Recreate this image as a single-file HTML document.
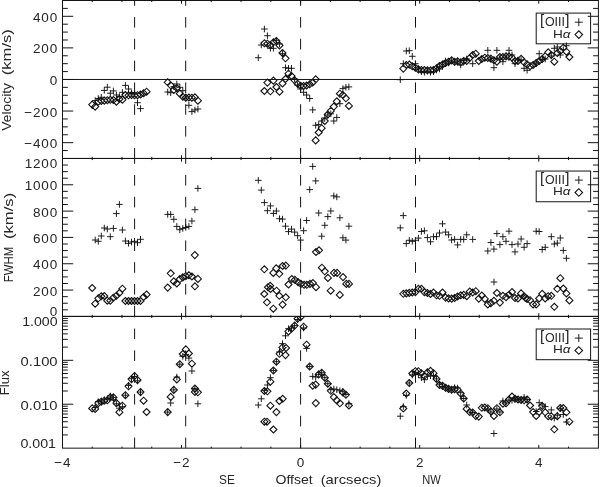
<!DOCTYPE html>
<html lang="en"><head><meta charset="utf-8"><title>Offset plot</title>
<style>html,body{margin:0;padding:0;background:#fff}svg{display:block}</style></head>
<body>
<svg width="600" height="487" viewBox="0 0 600 487" font-family="'Liberation Sans', sans-serif" fill="#262626" stroke="none">
<rect width="600" height="487" fill="#fff"/>
<defs>
<clipPath id="c0"><rect x="62.5" y="0.5" width="535.9" height="157.9"/></clipPath>
<clipPath id="c1"><rect x="62.5" y="158.45" width="535.9" height="157.9"/></clipPath>
<clipPath id="c2"><rect x="62.5" y="316.4" width="535.9" height="131.8"/></clipPath>
</defs>
<rect x="536.2" y="13.10" width="54.40" height="30.70" fill="#fff" stroke="#141414" stroke-width="1.0"/>
<text x="540.0" y="25.4" text-anchor="start" font-size="15.1">[</text>
<text x="544.9" y="25.7" text-anchor="start" font-size="13.4" textLength="20.0" lengthAdjust="spacingAndGlyphs">OIII</text>
<text x="565.2" y="25.4" text-anchor="start" font-size="15.1">]</text>
<text x="553.0" y="37.5" text-anchor="start" font-size="10.5" textLength="17.6" lengthAdjust="spacingAndGlyphs">H<tspan font-style="italic">α</tspan></text>
<g stroke="#141414" fill="none" stroke-width="0.95">
<path d="M574.8 22.2h8.0M578.8 18.2v8.0"/>
<path d="M575.0 34.6l3.8 -3.8l3.8 3.8l-3.8 3.8z" stroke-width="1.1"/>
</g>
<rect x="536.2" y="171.05" width="54.40" height="30.70" fill="#fff" stroke="#141414" stroke-width="1.0"/>
<text x="540.0" y="183.4" text-anchor="start" font-size="15.1">[</text>
<text x="544.9" y="183.6" text-anchor="start" font-size="13.4" textLength="20.0" lengthAdjust="spacingAndGlyphs">OIII</text>
<text x="565.2" y="183.4" text-anchor="start" font-size="15.1">]</text>
<text x="553.0" y="195.4" text-anchor="start" font-size="10.5" textLength="17.6" lengthAdjust="spacingAndGlyphs">H<tspan font-style="italic">α</tspan></text>
<g stroke="#141414" fill="none" stroke-width="0.95">
<path d="M574.8 180.1h8.0M578.8 176.1v8.0"/>
<path d="M575.0 192.5l3.8 -3.8l3.8 3.8l-3.8 3.8z" stroke-width="1.1"/>
</g>
<rect x="536.2" y="329.00" width="54.40" height="30.70" fill="#fff" stroke="#141414" stroke-width="1.0"/>
<text x="540.0" y="341.4" text-anchor="start" font-size="15.1">[</text>
<text x="544.9" y="341.6" text-anchor="start" font-size="13.4" textLength="20.0" lengthAdjust="spacingAndGlyphs">OIII</text>
<text x="565.2" y="341.4" text-anchor="start" font-size="15.1">]</text>
<text x="553.0" y="353.4" text-anchor="start" font-size="10.5" textLength="17.6" lengthAdjust="spacingAndGlyphs">H<tspan font-style="italic">α</tspan></text>
<g stroke="#141414" fill="none" stroke-width="0.95">
<path d="M574.8 338.1h8.0M578.8 334.1v8.0"/>
<path d="M575.0 350.5l3.8 -3.8l3.8 3.8l-3.8 3.8z" stroke-width="1.1"/>
</g>
<g stroke="#141414" fill="none" stroke-linecap="butt">
<rect x="62.5" y="0.5" width="535.90" height="157.95" stroke-width="1.0"/>
<rect x="62.5" y="158.45" width="535.90" height="157.95" stroke-width="1.0"/>
<rect x="62.5" y="316.4" width="535.90" height="131.75" stroke-width="1.0"/>
<line x1="92.19" y1="158.45" x2="92.19" y2="156.85" stroke-width="1.0"/>
<line x1="92.19" y1="0.50" x2="92.19" y2="2.10" stroke-width="1.0"/>
<line x1="121.97" y1="158.45" x2="121.97" y2="156.85" stroke-width="1.0"/>
<line x1="121.97" y1="0.50" x2="121.97" y2="2.10" stroke-width="1.0"/>
<line x1="151.74" y1="158.45" x2="151.74" y2="156.85" stroke-width="1.0"/>
<line x1="151.74" y1="0.50" x2="151.74" y2="2.10" stroke-width="1.0"/>
<line x1="181.51" y1="158.45" x2="181.51" y2="155.25" stroke-width="1.0"/>
<line x1="181.51" y1="0.50" x2="181.51" y2="3.70" stroke-width="1.0"/>
<line x1="211.28" y1="158.45" x2="211.28" y2="156.85" stroke-width="1.0"/>
<line x1="211.28" y1="0.50" x2="211.28" y2="2.10" stroke-width="1.0"/>
<line x1="241.06" y1="158.45" x2="241.06" y2="156.85" stroke-width="1.0"/>
<line x1="241.06" y1="0.50" x2="241.06" y2="2.10" stroke-width="1.0"/>
<line x1="270.83" y1="158.45" x2="270.83" y2="156.85" stroke-width="1.0"/>
<line x1="270.83" y1="0.50" x2="270.83" y2="2.10" stroke-width="1.0"/>
<line x1="300.60" y1="158.45" x2="300.60" y2="155.25" stroke-width="1.0"/>
<line x1="300.60" y1="0.50" x2="300.60" y2="3.70" stroke-width="1.0"/>
<line x1="330.37" y1="158.45" x2="330.37" y2="156.85" stroke-width="1.0"/>
<line x1="330.37" y1="0.50" x2="330.37" y2="2.10" stroke-width="1.0"/>
<line x1="360.14" y1="158.45" x2="360.14" y2="156.85" stroke-width="1.0"/>
<line x1="360.14" y1="0.50" x2="360.14" y2="2.10" stroke-width="1.0"/>
<line x1="389.92" y1="158.45" x2="389.92" y2="156.85" stroke-width="1.0"/>
<line x1="389.92" y1="0.50" x2="389.92" y2="2.10" stroke-width="1.0"/>
<line x1="419.69" y1="158.45" x2="419.69" y2="155.25" stroke-width="1.0"/>
<line x1="419.69" y1="0.50" x2="419.69" y2="3.70" stroke-width="1.0"/>
<line x1="449.46" y1="158.45" x2="449.46" y2="156.85" stroke-width="1.0"/>
<line x1="449.46" y1="0.50" x2="449.46" y2="2.10" stroke-width="1.0"/>
<line x1="479.23" y1="158.45" x2="479.23" y2="156.85" stroke-width="1.0"/>
<line x1="479.23" y1="0.50" x2="479.23" y2="2.10" stroke-width="1.0"/>
<line x1="509.01" y1="158.45" x2="509.01" y2="156.85" stroke-width="1.0"/>
<line x1="509.01" y1="0.50" x2="509.01" y2="2.10" stroke-width="1.0"/>
<line x1="538.78" y1="158.45" x2="538.78" y2="155.25" stroke-width="1.0"/>
<line x1="538.78" y1="0.50" x2="538.78" y2="3.70" stroke-width="1.0"/>
<line x1="568.55" y1="158.45" x2="568.55" y2="156.85" stroke-width="1.0"/>
<line x1="568.55" y1="0.50" x2="568.55" y2="2.10" stroke-width="1.0"/>
<line x1="92.19" y1="316.40" x2="92.19" y2="314.80" stroke-width="1.0"/>
<line x1="92.19" y1="158.45" x2="92.19" y2="160.05" stroke-width="1.0"/>
<line x1="121.97" y1="316.40" x2="121.97" y2="314.80" stroke-width="1.0"/>
<line x1="121.97" y1="158.45" x2="121.97" y2="160.05" stroke-width="1.0"/>
<line x1="151.74" y1="316.40" x2="151.74" y2="314.80" stroke-width="1.0"/>
<line x1="151.74" y1="158.45" x2="151.74" y2="160.05" stroke-width="1.0"/>
<line x1="181.51" y1="316.40" x2="181.51" y2="313.20" stroke-width="1.0"/>
<line x1="181.51" y1="158.45" x2="181.51" y2="161.65" stroke-width="1.0"/>
<line x1="211.28" y1="316.40" x2="211.28" y2="314.80" stroke-width="1.0"/>
<line x1="211.28" y1="158.45" x2="211.28" y2="160.05" stroke-width="1.0"/>
<line x1="241.06" y1="316.40" x2="241.06" y2="314.80" stroke-width="1.0"/>
<line x1="241.06" y1="158.45" x2="241.06" y2="160.05" stroke-width="1.0"/>
<line x1="270.83" y1="316.40" x2="270.83" y2="314.80" stroke-width="1.0"/>
<line x1="270.83" y1="158.45" x2="270.83" y2="160.05" stroke-width="1.0"/>
<line x1="300.60" y1="316.40" x2="300.60" y2="313.20" stroke-width="1.0"/>
<line x1="300.60" y1="158.45" x2="300.60" y2="161.65" stroke-width="1.0"/>
<line x1="330.37" y1="316.40" x2="330.37" y2="314.80" stroke-width="1.0"/>
<line x1="330.37" y1="158.45" x2="330.37" y2="160.05" stroke-width="1.0"/>
<line x1="360.14" y1="316.40" x2="360.14" y2="314.80" stroke-width="1.0"/>
<line x1="360.14" y1="158.45" x2="360.14" y2="160.05" stroke-width="1.0"/>
<line x1="389.92" y1="316.40" x2="389.92" y2="314.80" stroke-width="1.0"/>
<line x1="389.92" y1="158.45" x2="389.92" y2="160.05" stroke-width="1.0"/>
<line x1="419.69" y1="316.40" x2="419.69" y2="313.20" stroke-width="1.0"/>
<line x1="419.69" y1="158.45" x2="419.69" y2="161.65" stroke-width="1.0"/>
<line x1="449.46" y1="316.40" x2="449.46" y2="314.80" stroke-width="1.0"/>
<line x1="449.46" y1="158.45" x2="449.46" y2="160.05" stroke-width="1.0"/>
<line x1="479.23" y1="316.40" x2="479.23" y2="314.80" stroke-width="1.0"/>
<line x1="479.23" y1="158.45" x2="479.23" y2="160.05" stroke-width="1.0"/>
<line x1="509.01" y1="316.40" x2="509.01" y2="314.80" stroke-width="1.0"/>
<line x1="509.01" y1="158.45" x2="509.01" y2="160.05" stroke-width="1.0"/>
<line x1="538.78" y1="316.40" x2="538.78" y2="313.20" stroke-width="1.0"/>
<line x1="538.78" y1="158.45" x2="538.78" y2="161.65" stroke-width="1.0"/>
<line x1="568.55" y1="316.40" x2="568.55" y2="314.80" stroke-width="1.0"/>
<line x1="568.55" y1="158.45" x2="568.55" y2="160.05" stroke-width="1.0"/>
<line x1="92.19" y1="448.15" x2="92.19" y2="446.55" stroke-width="1.0"/>
<line x1="92.19" y1="316.40" x2="92.19" y2="318.00" stroke-width="1.0"/>
<line x1="121.97" y1="448.15" x2="121.97" y2="446.55" stroke-width="1.0"/>
<line x1="121.97" y1="316.40" x2="121.97" y2="318.00" stroke-width="1.0"/>
<line x1="151.74" y1="448.15" x2="151.74" y2="446.55" stroke-width="1.0"/>
<line x1="151.74" y1="316.40" x2="151.74" y2="318.00" stroke-width="1.0"/>
<line x1="181.51" y1="448.15" x2="181.51" y2="444.95" stroke-width="1.0"/>
<line x1="181.51" y1="316.40" x2="181.51" y2="319.60" stroke-width="1.0"/>
<line x1="211.28" y1="448.15" x2="211.28" y2="446.55" stroke-width="1.0"/>
<line x1="211.28" y1="316.40" x2="211.28" y2="318.00" stroke-width="1.0"/>
<line x1="241.06" y1="448.15" x2="241.06" y2="446.55" stroke-width="1.0"/>
<line x1="241.06" y1="316.40" x2="241.06" y2="318.00" stroke-width="1.0"/>
<line x1="270.83" y1="448.15" x2="270.83" y2="446.55" stroke-width="1.0"/>
<line x1="270.83" y1="316.40" x2="270.83" y2="318.00" stroke-width="1.0"/>
<line x1="300.60" y1="448.15" x2="300.60" y2="444.95" stroke-width="1.0"/>
<line x1="300.60" y1="316.40" x2="300.60" y2="319.60" stroke-width="1.0"/>
<line x1="330.37" y1="448.15" x2="330.37" y2="446.55" stroke-width="1.0"/>
<line x1="330.37" y1="316.40" x2="330.37" y2="318.00" stroke-width="1.0"/>
<line x1="360.14" y1="448.15" x2="360.14" y2="446.55" stroke-width="1.0"/>
<line x1="360.14" y1="316.40" x2="360.14" y2="318.00" stroke-width="1.0"/>
<line x1="389.92" y1="448.15" x2="389.92" y2="446.55" stroke-width="1.0"/>
<line x1="389.92" y1="316.40" x2="389.92" y2="318.00" stroke-width="1.0"/>
<line x1="419.69" y1="448.15" x2="419.69" y2="444.95" stroke-width="1.0"/>
<line x1="419.69" y1="316.40" x2="419.69" y2="319.60" stroke-width="1.0"/>
<line x1="449.46" y1="448.15" x2="449.46" y2="446.55" stroke-width="1.0"/>
<line x1="449.46" y1="316.40" x2="449.46" y2="318.00" stroke-width="1.0"/>
<line x1="479.23" y1="448.15" x2="479.23" y2="446.55" stroke-width="1.0"/>
<line x1="479.23" y1="316.40" x2="479.23" y2="318.00" stroke-width="1.0"/>
<line x1="509.01" y1="448.15" x2="509.01" y2="446.55" stroke-width="1.0"/>
<line x1="509.01" y1="316.40" x2="509.01" y2="318.00" stroke-width="1.0"/>
<line x1="538.78" y1="448.15" x2="538.78" y2="444.95" stroke-width="1.0"/>
<line x1="538.78" y1="316.40" x2="538.78" y2="319.60" stroke-width="1.0"/>
<line x1="568.55" y1="448.15" x2="568.55" y2="446.55" stroke-width="1.0"/>
<line x1="568.55" y1="316.40" x2="568.55" y2="318.00" stroke-width="1.0"/>
<line x1="62.50" y1="150.55" x2="67.80" y2="150.55" stroke-width="1.0"/>
<line x1="598.40" y1="150.55" x2="593.10" y2="150.55" stroke-width="1.0"/>
<line x1="62.50" y1="142.66" x2="73.20" y2="142.66" stroke-width="1.0"/>
<line x1="598.40" y1="142.66" x2="587.70" y2="142.66" stroke-width="1.0"/>
<line x1="62.50" y1="134.76" x2="67.80" y2="134.76" stroke-width="1.0"/>
<line x1="598.40" y1="134.76" x2="593.10" y2="134.76" stroke-width="1.0"/>
<line x1="62.50" y1="126.86" x2="67.80" y2="126.86" stroke-width="1.0"/>
<line x1="598.40" y1="126.86" x2="593.10" y2="126.86" stroke-width="1.0"/>
<line x1="62.50" y1="118.96" x2="67.80" y2="118.96" stroke-width="1.0"/>
<line x1="598.40" y1="118.96" x2="593.10" y2="118.96" stroke-width="1.0"/>
<line x1="62.50" y1="111.06" x2="73.20" y2="111.06" stroke-width="1.0"/>
<line x1="598.40" y1="111.06" x2="587.70" y2="111.06" stroke-width="1.0"/>
<line x1="62.50" y1="103.17" x2="67.80" y2="103.17" stroke-width="1.0"/>
<line x1="598.40" y1="103.17" x2="593.10" y2="103.17" stroke-width="1.0"/>
<line x1="62.50" y1="95.27" x2="67.80" y2="95.27" stroke-width="1.0"/>
<line x1="598.40" y1="95.27" x2="593.10" y2="95.27" stroke-width="1.0"/>
<line x1="62.50" y1="87.37" x2="67.80" y2="87.37" stroke-width="1.0"/>
<line x1="598.40" y1="87.37" x2="593.10" y2="87.37" stroke-width="1.0"/>
<line x1="62.50" y1="79.47" x2="73.20" y2="79.47" stroke-width="1.0"/>
<line x1="598.40" y1="79.47" x2="587.70" y2="79.47" stroke-width="1.0"/>
<line x1="62.50" y1="71.58" x2="67.80" y2="71.58" stroke-width="1.0"/>
<line x1="598.40" y1="71.58" x2="593.10" y2="71.58" stroke-width="1.0"/>
<line x1="62.50" y1="63.68" x2="67.80" y2="63.68" stroke-width="1.0"/>
<line x1="598.40" y1="63.68" x2="593.10" y2="63.68" stroke-width="1.0"/>
<line x1="62.50" y1="55.78" x2="67.80" y2="55.78" stroke-width="1.0"/>
<line x1="598.40" y1="55.78" x2="593.10" y2="55.78" stroke-width="1.0"/>
<line x1="62.50" y1="47.89" x2="73.20" y2="47.89" stroke-width="1.0"/>
<line x1="598.40" y1="47.89" x2="587.70" y2="47.89" stroke-width="1.0"/>
<line x1="62.50" y1="39.99" x2="67.80" y2="39.99" stroke-width="1.0"/>
<line x1="598.40" y1="39.99" x2="593.10" y2="39.99" stroke-width="1.0"/>
<line x1="62.50" y1="32.09" x2="67.80" y2="32.09" stroke-width="1.0"/>
<line x1="598.40" y1="32.09" x2="593.10" y2="32.09" stroke-width="1.0"/>
<line x1="62.50" y1="24.19" x2="67.80" y2="24.19" stroke-width="1.0"/>
<line x1="598.40" y1="24.19" x2="593.10" y2="24.19" stroke-width="1.0"/>
<line x1="62.50" y1="16.30" x2="73.20" y2="16.30" stroke-width="1.0"/>
<line x1="598.40" y1="16.30" x2="587.70" y2="16.30" stroke-width="1.0"/>
<line x1="62.50" y1="8.40" x2="67.80" y2="8.40" stroke-width="1.0"/>
<line x1="598.40" y1="8.40" x2="593.10" y2="8.40" stroke-width="1.0"/>
<line x1="62.50" y1="309.82" x2="67.80" y2="309.82" stroke-width="1.0"/>
<line x1="598.40" y1="309.82" x2="593.10" y2="309.82" stroke-width="1.0"/>
<line x1="62.50" y1="303.24" x2="67.80" y2="303.24" stroke-width="1.0"/>
<line x1="598.40" y1="303.24" x2="593.10" y2="303.24" stroke-width="1.0"/>
<line x1="62.50" y1="296.66" x2="67.80" y2="296.66" stroke-width="1.0"/>
<line x1="598.40" y1="296.66" x2="593.10" y2="296.66" stroke-width="1.0"/>
<line x1="62.50" y1="290.07" x2="73.20" y2="290.07" stroke-width="1.0"/>
<line x1="598.40" y1="290.07" x2="587.70" y2="290.07" stroke-width="1.0"/>
<line x1="62.50" y1="283.49" x2="67.80" y2="283.49" stroke-width="1.0"/>
<line x1="598.40" y1="283.49" x2="593.10" y2="283.49" stroke-width="1.0"/>
<line x1="62.50" y1="276.91" x2="67.80" y2="276.91" stroke-width="1.0"/>
<line x1="598.40" y1="276.91" x2="593.10" y2="276.91" stroke-width="1.0"/>
<line x1="62.50" y1="270.33" x2="67.80" y2="270.33" stroke-width="1.0"/>
<line x1="598.40" y1="270.33" x2="593.10" y2="270.33" stroke-width="1.0"/>
<line x1="62.50" y1="263.75" x2="73.20" y2="263.75" stroke-width="1.0"/>
<line x1="598.40" y1="263.75" x2="587.70" y2="263.75" stroke-width="1.0"/>
<line x1="62.50" y1="257.17" x2="67.80" y2="257.17" stroke-width="1.0"/>
<line x1="598.40" y1="257.17" x2="593.10" y2="257.17" stroke-width="1.0"/>
<line x1="62.50" y1="250.59" x2="67.80" y2="250.59" stroke-width="1.0"/>
<line x1="598.40" y1="250.59" x2="593.10" y2="250.59" stroke-width="1.0"/>
<line x1="62.50" y1="244.01" x2="67.80" y2="244.01" stroke-width="1.0"/>
<line x1="598.40" y1="244.01" x2="593.10" y2="244.01" stroke-width="1.0"/>
<line x1="62.50" y1="237.42" x2="73.20" y2="237.42" stroke-width="1.0"/>
<line x1="598.40" y1="237.42" x2="587.70" y2="237.42" stroke-width="1.0"/>
<line x1="62.50" y1="230.84" x2="67.80" y2="230.84" stroke-width="1.0"/>
<line x1="598.40" y1="230.84" x2="593.10" y2="230.84" stroke-width="1.0"/>
<line x1="62.50" y1="224.26" x2="67.80" y2="224.26" stroke-width="1.0"/>
<line x1="598.40" y1="224.26" x2="593.10" y2="224.26" stroke-width="1.0"/>
<line x1="62.50" y1="217.68" x2="67.80" y2="217.68" stroke-width="1.0"/>
<line x1="598.40" y1="217.68" x2="593.10" y2="217.68" stroke-width="1.0"/>
<line x1="62.50" y1="211.10" x2="73.20" y2="211.10" stroke-width="1.0"/>
<line x1="598.40" y1="211.10" x2="587.70" y2="211.10" stroke-width="1.0"/>
<line x1="62.50" y1="204.52" x2="67.80" y2="204.52" stroke-width="1.0"/>
<line x1="598.40" y1="204.52" x2="593.10" y2="204.52" stroke-width="1.0"/>
<line x1="62.50" y1="197.94" x2="67.80" y2="197.94" stroke-width="1.0"/>
<line x1="598.40" y1="197.94" x2="593.10" y2="197.94" stroke-width="1.0"/>
<line x1="62.50" y1="191.36" x2="67.80" y2="191.36" stroke-width="1.0"/>
<line x1="598.40" y1="191.36" x2="593.10" y2="191.36" stroke-width="1.0"/>
<line x1="62.50" y1="184.77" x2="73.20" y2="184.77" stroke-width="1.0"/>
<line x1="598.40" y1="184.77" x2="587.70" y2="184.77" stroke-width="1.0"/>
<line x1="62.50" y1="178.19" x2="67.80" y2="178.19" stroke-width="1.0"/>
<line x1="598.40" y1="178.19" x2="593.10" y2="178.19" stroke-width="1.0"/>
<line x1="62.50" y1="171.61" x2="67.80" y2="171.61" stroke-width="1.0"/>
<line x1="598.40" y1="171.61" x2="593.10" y2="171.61" stroke-width="1.0"/>
<line x1="62.50" y1="165.03" x2="67.80" y2="165.03" stroke-width="1.0"/>
<line x1="598.40" y1="165.03" x2="593.10" y2="165.03" stroke-width="1.0"/>
<line x1="62.50" y1="360.32" x2="73.20" y2="360.32" stroke-width="1.0"/>
<line x1="598.40" y1="360.32" x2="587.70" y2="360.32" stroke-width="1.0"/>
<line x1="62.50" y1="347.10" x2="67.80" y2="347.10" stroke-width="1.0"/>
<line x1="598.40" y1="347.10" x2="593.10" y2="347.10" stroke-width="1.0"/>
<line x1="62.50" y1="339.36" x2="67.80" y2="339.36" stroke-width="1.0"/>
<line x1="598.40" y1="339.36" x2="593.10" y2="339.36" stroke-width="1.0"/>
<line x1="62.50" y1="333.88" x2="67.80" y2="333.88" stroke-width="1.0"/>
<line x1="598.40" y1="333.88" x2="593.10" y2="333.88" stroke-width="1.0"/>
<line x1="62.50" y1="329.62" x2="67.80" y2="329.62" stroke-width="1.0"/>
<line x1="598.40" y1="329.62" x2="593.10" y2="329.62" stroke-width="1.0"/>
<line x1="62.50" y1="326.14" x2="67.80" y2="326.14" stroke-width="1.0"/>
<line x1="598.40" y1="326.14" x2="593.10" y2="326.14" stroke-width="1.0"/>
<line x1="62.50" y1="323.20" x2="67.80" y2="323.20" stroke-width="1.0"/>
<line x1="598.40" y1="323.20" x2="593.10" y2="323.20" stroke-width="1.0"/>
<line x1="62.50" y1="320.66" x2="67.80" y2="320.66" stroke-width="1.0"/>
<line x1="598.40" y1="320.66" x2="593.10" y2="320.66" stroke-width="1.0"/>
<line x1="62.50" y1="318.41" x2="67.80" y2="318.41" stroke-width="1.0"/>
<line x1="598.40" y1="318.41" x2="593.10" y2="318.41" stroke-width="1.0"/>
<line x1="62.50" y1="404.23" x2="73.20" y2="404.23" stroke-width="1.0"/>
<line x1="598.40" y1="404.23" x2="587.70" y2="404.23" stroke-width="1.0"/>
<line x1="62.50" y1="391.01" x2="67.80" y2="391.01" stroke-width="1.0"/>
<line x1="598.40" y1="391.01" x2="593.10" y2="391.01" stroke-width="1.0"/>
<line x1="62.50" y1="383.28" x2="67.80" y2="383.28" stroke-width="1.0"/>
<line x1="598.40" y1="383.28" x2="593.10" y2="383.28" stroke-width="1.0"/>
<line x1="62.50" y1="377.79" x2="67.80" y2="377.79" stroke-width="1.0"/>
<line x1="598.40" y1="377.79" x2="593.10" y2="377.79" stroke-width="1.0"/>
<line x1="62.50" y1="373.54" x2="67.80" y2="373.54" stroke-width="1.0"/>
<line x1="598.40" y1="373.54" x2="593.10" y2="373.54" stroke-width="1.0"/>
<line x1="62.50" y1="370.06" x2="67.80" y2="370.06" stroke-width="1.0"/>
<line x1="598.40" y1="370.06" x2="593.10" y2="370.06" stroke-width="1.0"/>
<line x1="62.50" y1="367.12" x2="67.80" y2="367.12" stroke-width="1.0"/>
<line x1="598.40" y1="367.12" x2="593.10" y2="367.12" stroke-width="1.0"/>
<line x1="62.50" y1="364.57" x2="67.80" y2="364.57" stroke-width="1.0"/>
<line x1="598.40" y1="364.57" x2="593.10" y2="364.57" stroke-width="1.0"/>
<line x1="62.50" y1="362.33" x2="67.80" y2="362.33" stroke-width="1.0"/>
<line x1="598.40" y1="362.33" x2="593.10" y2="362.33" stroke-width="1.0"/>
<line x1="62.50" y1="434.93" x2="67.80" y2="434.93" stroke-width="1.0"/>
<line x1="598.40" y1="434.93" x2="593.10" y2="434.93" stroke-width="1.0"/>
<line x1="62.50" y1="427.20" x2="67.80" y2="427.20" stroke-width="1.0"/>
<line x1="598.40" y1="427.20" x2="593.10" y2="427.20" stroke-width="1.0"/>
<line x1="62.50" y1="421.71" x2="67.80" y2="421.71" stroke-width="1.0"/>
<line x1="598.40" y1="421.71" x2="593.10" y2="421.71" stroke-width="1.0"/>
<line x1="62.50" y1="417.45" x2="67.80" y2="417.45" stroke-width="1.0"/>
<line x1="598.40" y1="417.45" x2="593.10" y2="417.45" stroke-width="1.0"/>
<line x1="62.50" y1="413.98" x2="67.80" y2="413.98" stroke-width="1.0"/>
<line x1="598.40" y1="413.98" x2="593.10" y2="413.98" stroke-width="1.0"/>
<line x1="62.50" y1="411.04" x2="67.80" y2="411.04" stroke-width="1.0"/>
<line x1="598.40" y1="411.04" x2="593.10" y2="411.04" stroke-width="1.0"/>
<line x1="62.50" y1="408.49" x2="67.80" y2="408.49" stroke-width="1.0"/>
<line x1="598.40" y1="408.49" x2="593.10" y2="408.49" stroke-width="1.0"/>
<line x1="62.50" y1="406.24" x2="67.80" y2="406.24" stroke-width="1.0"/>
<line x1="598.40" y1="406.24" x2="593.10" y2="406.24" stroke-width="1.0"/>
<line x1="62.50" y1="79.47" x2="598.40" y2="79.47" stroke-width="1.0"/>
<path d="M134.6 147.85V158.45M134.6 126.05V136.65M134.6 104.25V114.85M134.6 82.45V93.05M134.6 60.65V71.25M134.6 38.85V49.45M134.6 17.05V27.65M134.6 0.5V5.85M134.6 305.8V316.4M134.6 284.0V294.6M134.6 262.2V272.8M134.6 240.4V251.0M134.6 218.6V229.2M134.6 196.8V207.4M134.6 175.0V185.6M134.6 158.45V163.8M134.6 437.55V448.15M134.6 415.75V426.35M134.6 393.95V404.55M134.6 372.15V382.75M134.6 350.35V360.95M134.6 328.55V339.15M134.6 316.4V317.35" stroke-width="1.0"/>
<path d="M185.7 147.85V158.45M185.7 126.05V136.65M185.7 104.25V114.85M185.7 82.45V93.05M185.7 60.65V71.25M185.7 38.85V49.45M185.7 17.05V27.65M185.7 0.5V5.85M185.7 305.8V316.4M185.7 284.0V294.6M185.7 262.2V272.8M185.7 240.4V251.0M185.7 218.6V229.2M185.7 196.8V207.4M185.7 175.0V185.6M185.7 158.45V163.8M185.7 437.55V448.15M185.7 415.75V426.35M185.7 393.95V404.55M185.7 372.15V382.75M185.7 350.35V360.95M185.7 328.55V339.15M185.7 316.4V317.35" stroke-width="1.0"/>
<path d="M300.6 147.85V158.45M300.6 126.05V136.65M300.6 104.25V114.85M300.6 82.45V93.05M300.6 60.65V71.25M300.6 38.85V49.45M300.6 17.05V27.65M300.6 0.5V5.85M300.6 305.8V316.4M300.6 284.0V294.6M300.6 262.2V272.8M300.6 240.4V251.0M300.6 218.6V229.2M300.6 196.8V207.4M300.6 175.0V185.6M300.6 158.45V163.8M300.6 437.55V448.15M300.6 415.75V426.35M300.6 393.95V404.55M300.6 372.15V382.75M300.6 350.35V360.95M300.6 328.55V339.15M300.6 316.4V317.35" stroke-width="1.0"/>
<path d="M415.5 147.85V158.45M415.5 126.05V136.65M415.5 104.25V114.85M415.5 82.45V93.05M415.5 60.65V71.25M415.5 38.85V49.45M415.5 17.05V27.65M415.5 0.5V5.85M415.5 305.8V316.4M415.5 284.0V294.6M415.5 262.2V272.8M415.5 240.4V251.0M415.5 218.6V229.2M415.5 196.8V207.4M415.5 175.0V185.6M415.5 158.45V163.8M415.5 437.55V448.15M415.5 415.75V426.35M415.5 393.95V404.55M415.5 372.15V382.75M415.5 350.35V360.95M415.5 328.55V339.15M415.5 316.4V317.35" stroke-width="1.0"/>
</g>
<g stroke="#141414" fill="none" stroke-width="0.95">
<g clip-path="url(#c0)">
<path d="M91.9 100.6h6.6M95.2 97.3v6.6M95.0 98.5h6.6M98.3 95.2v6.6M98.0 97.3h6.6M101.3 94.0v6.6M101.0 90.4h6.6M104.3 87.1v6.6M104.0 87.2h6.6M107.3 83.9v6.6M107.0 93.2h6.6M110.3 89.9v6.6M110.1 90.9h6.6M113.4 87.6v6.6M113.1 95.0h6.6M116.4 91.7v6.6M116.1 96.5h6.6M119.4 93.2v6.6M119.1 92.3h6.6M122.4 89.0v6.6M122.1 85.4h6.6M125.4 82.1v6.6M125.2 89.0h6.6M128.5 85.7v6.6M128.2 93.0h6.6M131.5 89.7v6.6M131.2 94.0h6.6M134.5 90.7v6.6M134.2 102.7h6.6M137.5 99.4v6.6M137.2 108.6h6.6M140.5 105.3v6.6M164.4 92.0h6.6M167.7 88.7v6.6M167.4 92.7h6.6M170.7 89.4v6.6M170.5 86.7h6.6M173.8 83.4v6.6M173.5 84.0h6.6M176.8 80.7v6.6M176.5 87.3h6.6M179.8 84.0v6.6M179.5 90.7h6.6M182.8 87.4v6.6M182.5 97.0h6.6M185.8 93.7v6.6M185.6 105.3h6.6M188.9 102.0v6.6M188.6 111.6h6.6M191.9 108.3v6.6M191.6 110.0h6.6M194.9 106.7v6.6M194.6 109.0h6.6M197.9 105.7v6.6M255.0 57.7h6.6M258.3 54.4v6.6M258.0 45.0h6.6M261.3 41.7v6.6M261.1 29.0h6.6M264.4 25.7v6.6M264.1 35.7h6.6M267.4 32.4v6.6M267.1 48.3h6.6M270.4 45.0v6.6M270.1 48.3h6.6M273.4 45.0v6.6M273.1 40.3h6.6M276.4 37.0v6.6M276.2 44.0h6.6M279.5 40.7v6.6M279.2 53.7h6.6M282.5 50.4v6.6M282.2 67.7h6.6M285.5 64.4v6.6M285.2 68.3h6.6M288.5 65.0v6.6M288.2 68.3h6.6M291.5 65.0v6.6M291.3 79.0h6.6M294.6 75.7v6.6M294.3 85.0h6.6M297.6 81.7v6.6M297.3 89.0h6.6M300.6 85.7v6.6M300.3 92.3h6.6M303.6 89.0v6.6M303.3 95.0h6.6M306.6 91.7v6.6M306.4 98.5h6.6M309.7 95.2v6.6M309.4 109.9h6.6M312.7 106.6v6.6M312.4 125.3h6.6M315.7 122.0v6.6M315.4 124.6h6.6M318.7 121.3v6.6M318.4 121.0h6.6M321.7 117.7v6.6M321.5 118.0h6.6M324.8 114.7v6.6M324.5 115.0h6.6M327.8 111.7v6.6M327.5 113.8h6.6M330.8 110.5v6.6M330.5 121.0h6.6M333.8 117.7v6.6M333.5 117.4h6.6M336.8 114.1v6.6M336.6 103.7h6.6M339.9 100.4v6.6M339.6 88.6h6.6M342.9 85.3v6.6M342.6 87.2h6.6M345.9 83.9v6.6M345.6 86.9h6.6M348.9 83.6v6.6M397.0 79.7h6.6M400.3 76.4v6.6M400.0 63.7h6.6M403.3 60.4v6.6M403.0 51.0h6.6M406.3 47.7v6.6M406.0 50.7h6.6M409.3 47.4v6.6M409.0 56.3h6.6M412.3 53.0v6.6M412.1 63.7h6.6M415.4 60.4v6.6M415.1 69.0h6.6M418.4 65.7v6.6M418.1 71.7h6.6M421.4 68.4v6.6M421.1 72.3h6.6M424.4 69.0v6.6M424.1 71.0h6.6M427.4 67.7v6.6M427.2 72.3h6.6M430.5 69.0v6.6M430.2 71.7h6.6M433.5 68.4v6.6M433.2 70.0h6.6M436.5 66.7v6.6M436.2 69.0h6.6M439.5 65.7v6.6M439.2 66.3h6.6M442.5 63.0v6.6M442.3 61.0h6.6M445.6 57.7v6.6M445.3 63.0h6.6M448.6 59.7v6.6M448.3 61.0h6.6M451.6 57.7v6.6M451.3 62.3h6.6M454.6 59.0v6.6M454.3 61.7h6.6M457.6 58.4v6.6M457.4 65.0h6.6M460.7 61.7v6.6M460.4 60.3h6.6M463.7 57.0v6.6M463.4 59.0h6.6M466.7 55.7v6.6M469.4 63.7h6.6M472.7 60.4v6.6M484.5 50.3h6.6M487.8 47.0v6.6M487.6 58.0h6.6M490.9 54.7v6.6M490.6 67.7h6.6M493.9 64.4v6.6M493.6 50.3h6.6M496.9 47.0v6.6M496.6 58.0h6.6M499.9 54.7v6.6M499.6 61.7h6.6M502.9 58.4v6.6M502.7 57.0h6.6M506.0 53.7v6.6M505.7 50.3h6.6M509.0 47.0v6.6M508.7 55.0h6.6M512.0 51.7v6.6M511.7 63.7h6.6M515.0 60.4v6.6M514.7 60.0h6.6M518.0 56.7v6.6M517.8 60.0h6.6M521.1 56.7v6.6M520.8 68.3h6.6M524.1 65.0v6.6M523.8 70.3h6.6M527.1 67.0v6.6M532.9 63.0h6.6M536.2 59.7v6.6M535.9 53.7h6.6M539.2 50.4v6.6M538.9 59.5h6.6M542.2 56.2v6.6M541.9 59.0h6.6M545.2 55.7v6.6M548.0 56.0h6.6M551.3 52.7v6.6M551.0 48.3h6.6M554.3 45.0v6.6M554.0 47.0h6.6M557.3 43.7v6.6M557.0 55.0h6.6M560.3 51.7v6.6M560.0 49.7h6.6M563.3 46.4v6.6M563.1 45.7h6.6M566.4 42.4v6.6"/>
<path d="M88.7 104.6l3.5 -3.5l3.5 3.5l-3.5 3.5zM91.7 106.6l3.5 -3.5l3.5 3.5l-3.5 3.5zM94.8 101.7l3.5 -3.5l3.5 3.5l-3.5 3.5zM97.8 101.0l3.5 -3.5l3.5 3.5l-3.5 3.5zM100.8 100.6l3.5 -3.5l3.5 3.5l-3.5 3.5zM103.8 100.2l3.5 -3.5l3.5 3.5l-3.5 3.5zM106.8 99.8l3.5 -3.5l3.5 3.5l-3.5 3.5zM109.9 100.0l3.5 -3.5l3.5 3.5l-3.5 3.5zM112.9 101.7l3.5 -3.5l3.5 3.5l-3.5 3.5zM115.9 99.0l3.5 -3.5l3.5 3.5l-3.5 3.5zM118.9 99.7l3.5 -3.5l3.5 3.5l-3.5 3.5zM121.9 95.0l3.5 -3.5l3.5 3.5l-3.5 3.5zM125.0 95.3l3.5 -3.5l3.5 3.5l-3.5 3.5zM128.0 95.0l3.5 -3.5l3.5 3.5l-3.5 3.5zM131.0 95.3l3.5 -3.5l3.5 3.5l-3.5 3.5zM134.0 95.2l3.5 -3.5l3.5 3.5l-3.5 3.5zM137.0 94.5l3.5 -3.5l3.5 3.5l-3.5 3.5zM140.1 93.2l3.5 -3.5l3.5 3.5l-3.5 3.5zM143.1 91.7l3.5 -3.5l3.5 3.5l-3.5 3.5zM164.2 82.3l3.5 -3.5l3.5 3.5l-3.5 3.5zM167.2 85.3l3.5 -3.5l3.5 3.5l-3.5 3.5zM170.3 90.0l3.5 -3.5l3.5 3.5l-3.5 3.5zM173.3 88.0l3.5 -3.5l3.5 3.5l-3.5 3.5zM176.3 93.7l3.5 -3.5l3.5 3.5l-3.5 3.5zM179.3 96.7l3.5 -3.5l3.5 3.5l-3.5 3.5zM182.3 97.7l3.5 -3.5l3.5 3.5l-3.5 3.5zM185.4 97.5l3.5 -3.5l3.5 3.5l-3.5 3.5zM188.4 97.7l3.5 -3.5l3.5 3.5l-3.5 3.5zM191.4 97.3l3.5 -3.5l3.5 3.5l-3.5 3.5zM194.4 100.7l3.5 -3.5l3.5 3.5l-3.5 3.5zM260.9 43.3l3.5 -3.5l3.5 3.5l-3.5 3.5zM263.9 43.7l3.5 -3.5l3.5 3.5l-3.5 3.5zM266.9 45.0l3.5 -3.5l3.5 3.5l-3.5 3.5zM269.9 42.3l3.5 -3.5l3.5 3.5l-3.5 3.5zM272.9 41.0l3.5 -3.5l3.5 3.5l-3.5 3.5zM276.0 45.4l3.5 -3.5l3.5 3.5l-3.5 3.5zM279.0 53.0l3.5 -3.5l3.5 3.5l-3.5 3.5zM282.0 58.3l3.5 -3.5l3.5 3.5l-3.5 3.5zM260.9 91.0l3.5 -3.5l3.5 3.5l-3.5 3.5zM263.9 82.6l3.5 -3.5l3.5 3.5l-3.5 3.5zM266.9 91.3l3.5 -3.5l3.5 3.5l-3.5 3.5zM269.9 80.6l3.5 -3.5l3.5 3.5l-3.5 3.5zM272.9 87.0l3.5 -3.5l3.5 3.5l-3.5 3.5zM276.0 91.7l3.5 -3.5l3.5 3.5l-3.5 3.5zM279.0 83.4l3.5 -3.5l3.5 3.5l-3.5 3.5zM282.0 79.0l3.5 -3.5l3.5 3.5l-3.5 3.5zM285.0 73.7l3.5 -3.5l3.5 3.5l-3.5 3.5zM288.0 76.0l3.5 -3.5l3.5 3.5l-3.5 3.5zM291.1 80.3l3.5 -3.5l3.5 3.5l-3.5 3.5zM294.1 83.7l3.5 -3.5l3.5 3.5l-3.5 3.5zM297.1 85.7l3.5 -3.5l3.5 3.5l-3.5 3.5zM300.1 86.0l3.5 -3.5l3.5 3.5l-3.5 3.5zM303.1 85.5l3.5 -3.5l3.5 3.5l-3.5 3.5zM306.2 84.3l3.5 -3.5l3.5 3.5l-3.5 3.5zM309.2 82.5l3.5 -3.5l3.5 3.5l-3.5 3.5zM312.2 79.3l3.5 -3.5l3.5 3.5l-3.5 3.5zM312.2 140.4l3.5 -3.5l3.5 3.5l-3.5 3.5zM315.2 132.5l3.5 -3.5l3.5 3.5l-3.5 3.5zM318.2 128.2l3.5 -3.5l3.5 3.5l-3.5 3.5zM321.3 121.0l3.5 -3.5l3.5 3.5l-3.5 3.5zM324.3 114.5l3.5 -3.5l3.5 3.5l-3.5 3.5zM327.3 110.9l3.5 -3.5l3.5 3.5l-3.5 3.5zM330.3 106.6l3.5 -3.5l3.5 3.5l-3.5 3.5zM333.3 101.3l3.5 -3.5l3.5 3.5l-3.5 3.5zM336.4 93.7l3.5 -3.5l3.5 3.5l-3.5 3.5zM339.4 95.0l3.5 -3.5l3.5 3.5l-3.5 3.5zM342.4 98.3l3.5 -3.5l3.5 3.5l-3.5 3.5zM345.4 105.9l3.5 -3.5l3.5 3.5l-3.5 3.5zM399.8 68.6l3.5 -3.5l3.5 3.5l-3.5 3.5zM402.8 65.0l3.5 -3.5l3.5 3.5l-3.5 3.5zM405.8 64.6l3.5 -3.5l3.5 3.5l-3.5 3.5zM408.8 66.3l3.5 -3.5l3.5 3.5l-3.5 3.5zM411.9 67.7l3.5 -3.5l3.5 3.5l-3.5 3.5zM414.9 69.4l3.5 -3.5l3.5 3.5l-3.5 3.5zM417.9 70.0l3.5 -3.5l3.5 3.5l-3.5 3.5zM420.9 70.0l3.5 -3.5l3.5 3.5l-3.5 3.5zM423.9 70.3l3.5 -3.5l3.5 3.5l-3.5 3.5zM427.0 70.3l3.5 -3.5l3.5 3.5l-3.5 3.5zM430.0 70.0l3.5 -3.5l3.5 3.5l-3.5 3.5zM433.0 68.3l3.5 -3.5l3.5 3.5l-3.5 3.5zM436.0 66.0l3.5 -3.5l3.5 3.5l-3.5 3.5zM439.0 64.6l3.5 -3.5l3.5 3.5l-3.5 3.5zM442.1 63.0l3.5 -3.5l3.5 3.5l-3.5 3.5zM445.1 61.7l3.5 -3.5l3.5 3.5l-3.5 3.5zM448.1 60.3l3.5 -3.5l3.5 3.5l-3.5 3.5zM451.1 61.7l3.5 -3.5l3.5 3.5l-3.5 3.5zM454.1 61.4l3.5 -3.5l3.5 3.5l-3.5 3.5zM457.2 62.3l3.5 -3.5l3.5 3.5l-3.5 3.5zM460.2 61.0l3.5 -3.5l3.5 3.5l-3.5 3.5zM463.2 61.0l3.5 -3.5l3.5 3.5l-3.5 3.5zM466.2 58.0l3.5 -3.5l3.5 3.5l-3.5 3.5zM469.2 55.0l3.5 -3.5l3.5 3.5l-3.5 3.5zM472.3 53.7l3.5 -3.5l3.5 3.5l-3.5 3.5zM475.3 61.0l3.5 -3.5l3.5 3.5l-3.5 3.5zM478.3 59.0l3.5 -3.5l3.5 3.5l-3.5 3.5zM481.3 57.7l3.5 -3.5l3.5 3.5l-3.5 3.5zM484.3 58.0l3.5 -3.5l3.5 3.5l-3.5 3.5zM487.4 58.7l3.5 -3.5l3.5 3.5l-3.5 3.5zM490.4 60.3l3.5 -3.5l3.5 3.5l-3.5 3.5zM493.4 61.7l3.5 -3.5l3.5 3.5l-3.5 3.5zM496.4 57.0l3.5 -3.5l3.5 3.5l-3.5 3.5zM499.4 57.0l3.5 -3.5l3.5 3.5l-3.5 3.5zM502.5 56.3l3.5 -3.5l3.5 3.5l-3.5 3.5zM505.5 56.6l3.5 -3.5l3.5 3.5l-3.5 3.5zM508.5 57.7l3.5 -3.5l3.5 3.5l-3.5 3.5zM511.5 61.0l3.5 -3.5l3.5 3.5l-3.5 3.5zM514.5 61.0l3.5 -3.5l3.5 3.5l-3.5 3.5zM517.6 58.8l3.5 -3.5l3.5 3.5l-3.5 3.5zM520.6 62.3l3.5 -3.5l3.5 3.5l-3.5 3.5zM523.6 64.4l3.5 -3.5l3.5 3.5l-3.5 3.5zM526.6 66.2l3.5 -3.5l3.5 3.5l-3.5 3.5zM529.6 65.0l3.5 -3.5l3.5 3.5l-3.5 3.5zM532.7 63.0l3.5 -3.5l3.5 3.5l-3.5 3.5zM535.7 61.0l3.5 -3.5l3.5 3.5l-3.5 3.5zM538.7 59.0l3.5 -3.5l3.5 3.5l-3.5 3.5zM541.7 56.3l3.5 -3.5l3.5 3.5l-3.5 3.5zM544.7 52.3l3.5 -3.5l3.5 3.5l-3.5 3.5zM547.8 55.0l3.5 -3.5l3.5 3.5l-3.5 3.5zM550.8 61.7l3.5 -3.5l3.5 3.5l-3.5 3.5zM553.8 53.0l3.5 -3.5l3.5 3.5l-3.5 3.5zM556.8 51.0l3.5 -3.5l3.5 3.5l-3.5 3.5zM559.8 47.7l3.5 -3.5l3.5 3.5l-3.5 3.5zM562.9 51.7l3.5 -3.5l3.5 3.5l-3.5 3.5zM565.9 57.0l3.5 -3.5l3.5 3.5l-3.5 3.5z" stroke-width="1.1"/>
</g>
<g clip-path="url(#c1)">
<path d="M91.9 240.0h6.6M95.2 236.7v6.6M95.0 241.3h6.6M98.3 238.0v6.6M98.0 236.0h6.6M101.3 232.7v6.6M101.0 228.0h6.6M104.3 224.7v6.6M104.0 229.0h6.6M107.3 225.7v6.6M107.0 236.7h6.6M110.3 233.4v6.6M110.1 228.4h6.6M113.4 225.1v6.6M113.1 213.6h6.6M116.4 210.3v6.6M116.1 204.4h6.6M119.4 201.1v6.6M119.1 230.0h6.6M122.4 226.7v6.6M122.1 241.0h6.6M125.4 237.7v6.6M125.2 243.3h6.6M128.5 240.0v6.6M128.2 242.0h6.6M131.5 238.7v6.6M131.2 241.3h6.6M134.5 238.0v6.6M134.2 242.7h6.6M137.5 239.4v6.6M137.2 239.3h6.6M140.5 236.0v6.6M164.4 214.4h6.6M167.7 211.1v6.6M167.4 214.4h6.6M170.7 211.1v6.6M170.5 219.3h6.6M173.8 216.0v6.6M173.5 226.4h6.6M176.8 223.1v6.6M176.5 229.7h6.6M179.8 226.4v6.6M179.5 228.4h6.6M182.8 225.1v6.6M182.5 227.5h6.6M185.8 224.2v6.6M185.6 226.4h6.6M188.9 223.1v6.6M188.6 221.0h6.6M191.9 217.7v6.6M191.6 209.7h6.6M194.9 206.4v6.6M194.6 188.4h6.6M197.9 185.1v6.6M255.0 180.3h6.6M258.3 177.0v6.6M258.0 190.1h6.6M261.3 186.8v6.6M261.1 202.6h6.6M264.4 199.3v6.6M264.1 210.7h6.6M267.4 207.4v6.6M267.1 205.9h6.6M270.4 202.6v6.6M270.1 213.4h6.6M273.4 210.1v6.6M273.1 211.0h6.6M276.4 207.7v6.6M276.2 218.7h6.6M279.5 215.4v6.6M279.2 219.1h6.6M282.5 215.8v6.6M282.2 226.2h6.6M285.5 222.9v6.6M285.2 231.6h6.6M288.5 228.3v6.6M288.2 229.1h6.6M291.5 225.8v6.6M291.3 232.1h6.6M294.6 228.8v6.6M294.3 235.7h6.6M297.6 232.4v6.6M297.3 240.1h6.6M300.6 236.8v6.6M300.3 230.7h6.6M303.6 227.4v6.6M303.3 220.5h6.6M306.6 217.2v6.6M306.4 189.6h6.6M309.7 186.3v6.6M309.4 166.4h6.6M312.7 163.1v6.6M312.4 180.9h6.6M315.7 177.6v6.6M315.4 213.0h6.6M318.7 209.7v6.6M318.4 236.2h6.6M321.7 232.9v6.6M321.5 225.3h6.6M324.8 222.0v6.6M324.5 216.6h6.6M327.8 213.3v6.6M327.5 211.0h6.6M330.8 207.7v6.6M330.5 195.9h6.6M333.8 192.6v6.6M333.5 196.9h6.6M336.8 193.6v6.6M336.6 217.8h6.6M339.9 214.5v6.6M339.6 237.8h6.6M342.9 234.5v6.6M342.6 240.1h6.6M345.9 236.8v6.6M345.6 226.2h6.6M348.9 222.9v6.6M397.0 227.9h6.6M400.3 224.6v6.6M400.0 215.6h6.6M403.3 212.3v6.6M403.0 243.6h6.6M406.3 240.3v6.6M406.0 240.3h6.6M409.3 237.0v6.6M409.0 241.3h6.6M412.3 238.0v6.6M412.1 240.3h6.6M415.4 237.0v6.6M415.1 238.1h6.6M418.4 234.8v6.6M418.1 231.5h6.6M421.4 228.2v6.6M421.1 230.8h6.6M424.4 227.5v6.6M424.1 237.6h6.6M427.4 234.3v6.6M427.2 241.8h6.6M430.5 238.5v6.6M430.2 236.7h6.6M433.5 233.4v6.6M433.2 236.7h6.6M436.5 233.4v6.6M436.2 233.0h6.6M439.5 229.7v6.6M439.2 223.8h6.6M442.5 220.5v6.6M442.3 232.1h6.6M445.6 228.8v6.6M445.3 234.8h6.6M448.6 231.5v6.6M448.3 240.0h6.6M451.6 236.7v6.6M451.3 239.4h6.6M454.6 236.1v6.6M454.3 244.9h6.6M457.6 241.6v6.6M457.4 239.4h6.6M460.7 236.1v6.6M460.4 239.4h6.6M463.7 236.1v6.6M463.4 234.8h6.6M466.7 231.5v6.6M469.4 239.4h6.6M472.7 236.1v6.6M484.5 251.0h6.6M487.8 247.7v6.6M487.6 242.5h6.6M490.9 239.2v6.6M490.6 249.1h6.6M493.9 245.8v6.6M493.6 233.6h6.6M496.9 230.3v6.6M496.6 244.6h6.6M499.9 241.3v6.6M499.6 236.7h6.6M502.9 233.4v6.6M502.7 241.3h6.6M506.0 238.0v6.6M505.7 231.2h6.6M509.0 227.9v6.6M508.7 244.6h6.6M512.0 241.3v6.6M511.7 251.9h6.6M515.0 248.6v6.6M514.7 244.0h6.6M518.0 240.7v6.6M517.8 239.0h6.6M521.1 235.7v6.6M520.8 247.3h6.6M524.1 244.0v6.6M523.8 243.6h6.6M527.1 240.3v6.6M532.9 231.2h6.6M536.2 227.9v6.6M535.9 231.5h6.6M539.2 228.2v6.6M538.9 249.5h6.6M542.2 246.2v6.6M541.9 247.3h6.6M545.2 244.0v6.6M548.0 236.7h6.6M551.3 233.4v6.6M551.0 244.0h6.6M554.3 240.7v6.6M554.0 243.1h6.6M557.3 239.8v6.6M557.0 238.0h6.6M560.3 234.7v6.6M560.0 250.4h6.6M563.3 247.1v6.6M563.1 258.3h6.6M566.4 255.0v6.6M490.7 282.0h6.6M494.0 278.7v6.6"/>
<path d="M88.7 288.0l3.5 -3.5l3.5 3.5l-3.5 3.5zM91.7 303.7l3.5 -3.5l3.5 3.5l-3.5 3.5zM94.8 298.3l3.5 -3.5l3.5 3.5l-3.5 3.5zM97.8 296.3l3.5 -3.5l3.5 3.5l-3.5 3.5zM100.8 296.0l3.5 -3.5l3.5 3.5l-3.5 3.5zM103.8 300.7l3.5 -3.5l3.5 3.5l-3.5 3.5zM106.8 300.7l3.5 -3.5l3.5 3.5l-3.5 3.5zM109.9 297.7l3.5 -3.5l3.5 3.5l-3.5 3.5zM112.9 295.7l3.5 -3.5l3.5 3.5l-3.5 3.5zM115.9 293.0l3.5 -3.5l3.5 3.5l-3.5 3.5zM118.9 288.7l3.5 -3.5l3.5 3.5l-3.5 3.5zM121.9 301.0l3.5 -3.5l3.5 3.5l-3.5 3.5zM125.0 301.0l3.5 -3.5l3.5 3.5l-3.5 3.5zM128.0 301.0l3.5 -3.5l3.5 3.5l-3.5 3.5zM131.0 301.0l3.5 -3.5l3.5 3.5l-3.5 3.5zM134.0 301.0l3.5 -3.5l3.5 3.5l-3.5 3.5zM137.0 301.0l3.5 -3.5l3.5 3.5l-3.5 3.5zM140.1 297.0l3.5 -3.5l3.5 3.5l-3.5 3.5zM143.1 294.6l3.5 -3.5l3.5 3.5l-3.5 3.5zM164.2 287.6l3.5 -3.5l3.5 3.5l-3.5 3.5zM167.2 273.3l3.5 -3.5l3.5 3.5l-3.5 3.5zM170.3 281.4l3.5 -3.5l3.5 3.5l-3.5 3.5zM173.3 283.5l3.5 -3.5l3.5 3.5l-3.5 3.5zM176.3 279.1l3.5 -3.5l3.5 3.5l-3.5 3.5zM179.3 277.4l3.5 -3.5l3.5 3.5l-3.5 3.5zM182.3 276.1l3.5 -3.5l3.5 3.5l-3.5 3.5zM185.4 275.3l3.5 -3.5l3.5 3.5l-3.5 3.5zM188.4 276.5l3.5 -3.5l3.5 3.5l-3.5 3.5zM191.4 286.3l3.5 -3.5l3.5 3.5l-3.5 3.5zM194.4 278.9l3.5 -3.5l3.5 3.5l-3.5 3.5zM191.3 255.1l3.5 -3.5l3.5 3.5l-3.5 3.5zM260.8 269.3l3.5 -3.5l3.5 3.5l-3.5 3.5zM272.7 268.3l3.5 -3.5l3.5 3.5l-3.5 3.5zM269.8 272.9l3.5 -3.5l3.5 3.5l-3.5 3.5zM275.8 273.8l3.5 -3.5l3.5 3.5l-3.5 3.5zM279.1 266.0l3.5 -3.5l3.5 3.5l-3.5 3.5zM282.3 265.6l3.5 -3.5l3.5 3.5l-3.5 3.5zM264.5 287.2l3.5 -3.5l3.5 3.5l-3.5 3.5zM266.7 285.8l3.5 -3.5l3.5 3.5l-3.5 3.5zM267.0 289.0l3.5 -3.5l3.5 3.5l-3.5 3.5zM260.8 294.0l3.5 -3.5l3.5 3.5l-3.5 3.5zM273.1 290.7l3.5 -3.5l3.5 3.5l-3.5 3.5zM275.8 295.8l3.5 -3.5l3.5 3.5l-3.5 3.5zM282.3 297.3l3.5 -3.5l3.5 3.5l-3.5 3.5zM263.5 302.3l3.5 -3.5l3.5 3.5l-3.5 3.5zM279.1 304.6l3.5 -3.5l3.5 3.5l-3.5 3.5zM269.8 308.7l3.5 -3.5l3.5 3.5l-3.5 3.5zM285.0 284.5l3.5 -3.5l3.5 3.5l-3.5 3.5zM288.3 279.0l3.5 -3.5l3.5 3.5l-3.5 3.5zM291.4 279.9l3.5 -3.5l3.5 3.5l-3.5 3.5zM294.5 282.1l3.5 -3.5l3.5 3.5l-3.5 3.5zM297.5 283.9l3.5 -3.5l3.5 3.5l-3.5 3.5zM300.6 284.8l3.5 -3.5l3.5 3.5l-3.5 3.5zM303.3 284.8l3.5 -3.5l3.5 3.5l-3.5 3.5zM306.5 283.9l3.5 -3.5l3.5 3.5l-3.5 3.5zM309.4 283.0l3.5 -3.5l3.5 3.5l-3.5 3.5zM312.5 287.2l3.5 -3.5l3.5 3.5l-3.5 3.5zM312.5 252.0l3.5 -3.5l3.5 3.5l-3.5 3.5zM315.5 250.3l3.5 -3.5l3.5 3.5l-3.5 3.5zM318.4 267.7l3.5 -3.5l3.5 3.5l-3.5 3.5zM321.3 271.3l3.5 -3.5l3.5 3.5l-3.5 3.5zM324.4 277.9l3.5 -3.5l3.5 3.5l-3.5 3.5zM327.2 290.7l3.5 -3.5l3.5 3.5l-3.5 3.5zM330.5 272.9l3.5 -3.5l3.5 3.5l-3.5 3.5zM333.6 272.9l3.5 -3.5l3.5 3.5l-3.5 3.5zM336.3 294.9l3.5 -3.5l3.5 3.5l-3.5 3.5zM339.5 277.1l3.5 -3.5l3.5 3.5l-3.5 3.5zM342.8 283.9l3.5 -3.5l3.5 3.5l-3.5 3.5zM345.5 283.9l3.5 -3.5l3.5 3.5l-3.5 3.5zM399.8 293.8l3.5 -3.5l3.5 3.5l-3.5 3.5zM402.8 293.4l3.5 -3.5l3.5 3.5l-3.5 3.5zM405.8 292.9l3.5 -3.5l3.5 3.5l-3.5 3.5zM408.8 292.5l3.5 -3.5l3.5 3.5l-3.5 3.5zM411.9 292.1l3.5 -3.5l3.5 3.5l-3.5 3.5zM414.9 288.8l3.5 -3.5l3.5 3.5l-3.5 3.5zM417.9 288.8l3.5 -3.5l3.5 3.5l-3.5 3.5zM420.9 292.1l3.5 -3.5l3.5 3.5l-3.5 3.5zM423.9 293.0l3.5 -3.5l3.5 3.5l-3.5 3.5zM427.0 294.0l3.5 -3.5l3.5 3.5l-3.5 3.5zM430.0 292.5l3.5 -3.5l3.5 3.5l-3.5 3.5zM433.0 295.3l3.5 -3.5l3.5 3.5l-3.5 3.5zM436.0 295.8l3.5 -3.5l3.5 3.5l-3.5 3.5zM439.0 292.5l3.5 -3.5l3.5 3.5l-3.5 3.5zM442.1 297.6l3.5 -3.5l3.5 3.5l-3.5 3.5zM445.1 298.4l3.5 -3.5l3.5 3.5l-3.5 3.5zM448.1 298.6l3.5 -3.5l3.5 3.5l-3.5 3.5zM451.1 298.0l3.5 -3.5l3.5 3.5l-3.5 3.5zM454.1 296.5l3.5 -3.5l3.5 3.5l-3.5 3.5zM457.2 295.3l3.5 -3.5l3.5 3.5l-3.5 3.5zM460.2 294.9l3.5 -3.5l3.5 3.5l-3.5 3.5zM463.2 296.2l3.5 -3.5l3.5 3.5l-3.5 3.5zM466.2 291.6l3.5 -3.5l3.5 3.5l-3.5 3.5zM469.2 292.5l3.5 -3.5l3.5 3.5l-3.5 3.5zM472.3 291.2l3.5 -3.5l3.5 3.5l-3.5 3.5zM475.3 298.6l3.5 -3.5l3.5 3.5l-3.5 3.5zM478.3 295.6l3.5 -3.5l3.5 3.5l-3.5 3.5zM481.3 298.9l3.5 -3.5l3.5 3.5l-3.5 3.5zM484.3 304.4l3.5 -3.5l3.5 3.5l-3.5 3.5zM487.4 303.1l3.5 -3.5l3.5 3.5l-3.5 3.5zM490.4 300.8l3.5 -3.5l3.5 3.5l-3.5 3.5zM493.4 293.0l3.5 -3.5l3.5 3.5l-3.5 3.5zM496.4 302.6l3.5 -3.5l3.5 3.5l-3.5 3.5zM499.4 295.8l3.5 -3.5l3.5 3.5l-3.5 3.5zM502.5 297.1l3.5 -3.5l3.5 3.5l-3.5 3.5zM505.5 294.7l3.5 -3.5l3.5 3.5l-3.5 3.5zM508.5 292.1l3.5 -3.5l3.5 3.5l-3.5 3.5zM511.5 298.0l3.5 -3.5l3.5 3.5l-3.5 3.5zM514.5 298.4l3.5 -3.5l3.5 3.5l-3.5 3.5zM517.6 293.4l3.5 -3.5l3.5 3.5l-3.5 3.5zM520.6 296.2l3.5 -3.5l3.5 3.5l-3.5 3.5zM523.6 298.9l3.5 -3.5l3.5 3.5l-3.5 3.5zM526.6 300.2l3.5 -3.5l3.5 3.5l-3.5 3.5zM529.6 304.4l3.5 -3.5l3.5 3.5l-3.5 3.5zM532.7 304.4l3.5 -3.5l3.5 3.5l-3.5 3.5zM535.7 298.4l3.5 -3.5l3.5 3.5l-3.5 3.5zM538.7 293.8l3.5 -3.5l3.5 3.5l-3.5 3.5zM541.7 298.4l3.5 -3.5l3.5 3.5l-3.5 3.5zM544.7 296.2l3.5 -3.5l3.5 3.5l-3.5 3.5zM547.8 295.8l3.5 -3.5l3.5 3.5l-3.5 3.5zM550.8 306.8l3.5 -3.5l3.5 3.5l-3.5 3.5zM553.8 288.8l3.5 -3.5l3.5 3.5l-3.5 3.5zM556.8 278.2l3.5 -3.5l3.5 3.5l-3.5 3.5zM559.8 288.5l3.5 -3.5l3.5 3.5l-3.5 3.5zM562.9 293.4l3.5 -3.5l3.5 3.5l-3.5 3.5zM565.9 300.4l3.5 -3.5l3.5 3.5l-3.5 3.5zM522.0 298.0l3.5 -3.5l3.5 3.5l-3.5 3.5z" stroke-width="1.1"/>
</g>
<g clip-path="url(#c2)">
<path d="M91.9 407.5h6.6M95.2 404.2v6.6M95.0 401.7h6.6M98.3 398.4v6.6M98.0 401.0h6.6M101.3 397.7v6.6M101.0 399.8h6.6M104.3 396.5v6.6M104.0 398.9h6.6M107.3 395.6v6.6M107.0 396.0h6.6M110.3 392.7v6.6M110.1 397.4h6.6M113.4 394.1v6.6M113.1 403.8h6.6M116.4 400.5v6.6M116.1 408.2h6.6M119.4 404.9v6.6M119.1 406.7h6.6M122.4 403.4v6.6M122.1 395.2h6.6M125.4 391.9v6.6M125.2 385.4h6.6M128.5 382.1v6.6M128.2 378.7h6.6M131.5 375.4v6.6M131.2 376.5h6.6M134.5 373.2v6.6M134.2 380.8h6.6M137.5 377.5v6.6M137.2 392.1h6.6M140.5 388.8v6.6M164.4 412.1h6.6M167.7 408.8v6.6M167.4 403.0h6.6M170.7 399.7v6.6M170.5 389.9h6.6M173.8 386.6v6.6M173.5 377.1h6.6M176.8 373.8v6.6M176.5 364.2h6.6M179.8 360.9v6.6M179.5 356.3h6.6M182.8 353.0v6.6M182.5 354.4h6.6M185.8 351.1v6.6M185.6 358.1h6.6M188.9 354.8v6.6M188.6 371.0h6.6M191.9 367.7v6.6M191.6 388.6h6.6M194.9 385.3v6.6M194.6 403.8h6.6M197.9 400.5v6.6M255.0 405.0h6.6M258.3 401.7v6.6M258.0 398.8h6.6M261.3 395.5v6.6M261.1 390.4h6.6M264.4 387.1v6.6M264.1 385.0h6.6M267.4 381.7v6.6M267.1 377.7h6.6M270.4 374.4v6.6M270.1 370.5h6.6M273.4 367.2v6.6M273.1 361.7h6.6M276.4 358.4v6.6M276.2 352.0h6.6M279.5 348.7v6.6M279.2 343.6h6.6M282.5 340.3v6.6M282.2 335.8h6.6M285.5 332.5v6.6M285.2 328.7h6.6M288.5 325.4v6.6M288.2 328.0h6.6M291.5 324.7v6.6M291.3 325.6h6.6M294.6 322.3v6.6M294.3 319.5h6.6M297.6 316.2v6.6M300.3 328.0h6.6M303.6 324.7v6.6M303.3 348.4h6.6M306.6 345.1v6.6M306.4 366.5h6.6M309.7 363.2v6.6M309.4 376.4h6.6M312.7 373.1v6.6M312.4 377.0h6.6M315.7 373.7v6.6M315.4 374.4h6.6M318.7 371.1v6.6M318.4 372.8h6.6M321.7 369.5v6.6M321.5 377.7h6.6M324.8 374.4v6.6M324.5 383.7h6.6M327.8 380.4v6.6M327.5 389.7h6.6M330.8 386.4v6.6M330.5 389.0h6.6M333.8 385.7v6.6M333.5 389.7h6.6M336.8 386.4v6.6M336.6 390.8h6.6M339.9 387.5v6.6M339.6 391.7h6.6M342.9 388.4v6.6M342.6 394.4h6.6M345.9 391.1v6.6M345.6 403.7h6.6M348.9 400.4v6.6M397.0 416.2h6.6M400.3 412.9v6.6M400.0 406.6h6.6M403.3 403.3v6.6M403.0 395.4h6.6M406.3 392.1v6.6M406.0 383.0h6.6M409.3 379.7v6.6M409.0 375.0h6.6M412.3 371.7v6.6M412.1 374.3h6.6M415.4 371.0v6.6M415.1 374.7h6.6M418.4 371.4v6.6M418.1 377.8h6.6M421.4 374.5v6.6M421.1 379.7h6.6M424.4 376.4v6.6M424.1 376.3h6.6M427.4 373.0v6.6M427.2 375.8h6.6M430.5 372.5v6.6M430.2 375.8h6.6M433.5 372.5v6.6M433.2 378.9h6.6M436.5 375.6v6.6M436.2 384.2h6.6M439.5 380.9v6.6M439.2 386.5h6.6M442.5 383.2v6.6M442.3 387.8h6.6M445.6 384.5v6.6M445.3 388.6h6.6M448.6 385.3v6.6M448.3 389.7h6.6M451.6 386.4v6.6M451.3 387.7h6.6M454.6 384.4v6.6M454.3 388.1h6.6M457.6 384.8v6.6M457.4 392.7h6.6M460.7 389.4v6.6M460.4 398.5h6.6M463.7 395.2v6.6M463.4 405.0h6.6M466.7 401.7v6.6M469.4 412.5h6.6M472.7 409.2v6.6M484.5 409.0h6.6M487.8 405.7v6.6M487.6 412.0h6.6M490.9 408.7v6.6M490.6 433.5h6.6M493.9 430.2v6.6M493.6 409.0h6.6M496.9 405.7v6.6M496.6 412.0h6.6M499.9 408.7v6.6M499.6 401.0h6.6M502.9 397.7v6.6M502.7 403.0h6.6M506.0 399.7v6.6M505.7 400.0h6.6M509.0 396.7v6.6M508.7 400.3h6.6M512.0 397.0v6.6M511.7 399.0h6.6M515.0 395.7v6.6M514.7 399.5h6.6M518.0 396.2v6.6M517.8 400.0h6.6M521.1 396.7v6.6M520.8 397.3h6.6M524.1 394.0v6.6M523.8 399.5h6.6M527.1 396.2v6.6M532.9 411.5h6.6M536.2 408.2v6.6M535.9 402.7h6.6M539.2 399.4v6.6M538.9 405.1h6.6M542.2 401.8v6.6M541.9 406.6h6.6M545.2 403.3v6.6M548.0 409.9h6.6M551.3 406.6v6.6M551.0 418.1h6.6M554.3 414.8v6.6M554.0 415.2h6.6M557.3 411.9v6.6M557.0 408.7h6.6M560.3 405.4v6.6M560.0 414.5h6.6M563.3 411.2v6.6M563.1 422.0h6.6M566.4 418.7v6.6"/>
<path d="M88.7 408.4l3.5 -3.5l3.5 3.5l-3.5 3.5zM91.7 408.9l3.5 -3.5l3.5 3.5l-3.5 3.5zM94.8 403.1l3.5 -3.5l3.5 3.5l-3.5 3.5zM97.8 401.7l3.5 -3.5l3.5 3.5l-3.5 3.5zM100.8 400.7l3.5 -3.5l3.5 3.5l-3.5 3.5zM103.8 400.3l3.5 -3.5l3.5 3.5l-3.5 3.5zM106.8 397.4l3.5 -3.5l3.5 3.5l-3.5 3.5zM109.9 397.4l3.5 -3.5l3.5 3.5l-3.5 3.5zM112.9 403.1l3.5 -3.5l3.5 3.5l-3.5 3.5zM115.9 412.2l3.5 -3.5l3.5 3.5l-3.5 3.5zM118.9 405.7l3.5 -3.5l3.5 3.5l-3.5 3.5zM121.9 395.2l3.5 -3.5l3.5 3.5l-3.5 3.5zM125.0 386.3l3.5 -3.5l3.5 3.5l-3.5 3.5zM128.0 379.1l3.5 -3.5l3.5 3.5l-3.5 3.5zM131.0 376.1l3.5 -3.5l3.5 3.5l-3.5 3.5zM134.0 380.1l3.5 -3.5l3.5 3.5l-3.5 3.5zM137.0 392.1l3.5 -3.5l3.5 3.5l-3.5 3.5zM140.1 400.7l3.5 -3.5l3.5 3.5l-3.5 3.5zM143.1 412.0l3.5 -3.5l3.5 3.5l-3.5 3.5zM164.2 412.1l3.5 -3.5l3.5 3.5l-3.5 3.5zM167.2 396.9l3.5 -3.5l3.5 3.5l-3.5 3.5zM170.3 389.9l3.5 -3.5l3.5 3.5l-3.5 3.5zM173.3 379.4l3.5 -3.5l3.5 3.5l-3.5 3.5zM176.3 364.2l3.5 -3.5l3.5 3.5l-3.5 3.5zM179.3 354.0l3.5 -3.5l3.5 3.5l-3.5 3.5zM182.3 349.4l3.5 -3.5l3.5 3.5l-3.5 3.5zM185.4 353.5l3.5 -3.5l3.5 3.5l-3.5 3.5zM188.4 363.7l3.5 -3.5l3.5 3.5l-3.5 3.5zM191.4 388.6l3.5 -3.5l3.5 3.5l-3.5 3.5zM194.4 392.3l3.5 -3.5l3.5 3.5l-3.5 3.5zM191.4 391.9l3.5 -3.5l3.5 3.5l-3.5 3.5zM260.9 391.0l3.5 -3.5l3.5 3.5l-3.5 3.5zM263.9 391.3l3.5 -3.5l3.5 3.5l-3.5 3.5zM266.9 381.7l3.5 -3.5l3.5 3.5l-3.5 3.5zM269.9 370.5l3.5 -3.5l3.5 3.5l-3.5 3.5zM272.9 361.7l3.5 -3.5l3.5 3.5l-3.5 3.5zM276.0 353.8l3.5 -3.5l3.5 3.5l-3.5 3.5zM279.0 347.4l3.5 -3.5l3.5 3.5l-3.5 3.5zM282.0 355.1l3.5 -3.5l3.5 3.5l-3.5 3.5zM285.0 331.4l3.5 -3.5l3.5 3.5l-3.5 3.5zM288.0 328.7l3.5 -3.5l3.5 3.5l-3.5 3.5zM291.1 325.6l3.5 -3.5l3.5 3.5l-3.5 3.5zM294.1 318.7l3.5 -3.5l3.5 3.5l-3.5 3.5zM297.1 317.1l3.5 -3.5l3.5 3.5l-3.5 3.5zM300.1 326.7l3.5 -3.5l3.5 3.5l-3.5 3.5zM303.1 344.7l3.5 -3.5l3.5 3.5l-3.5 3.5zM306.2 366.5l3.5 -3.5l3.5 3.5l-3.5 3.5zM309.2 385.7l3.5 -3.5l3.5 3.5l-3.5 3.5zM312.2 384.6l3.5 -3.5l3.5 3.5l-3.5 3.5zM315.2 374.4l3.5 -3.5l3.5 3.5l-3.5 3.5zM318.2 372.8l3.5 -3.5l3.5 3.5l-3.5 3.5zM321.3 377.7l3.5 -3.5l3.5 3.5l-3.5 3.5zM324.3 383.7l3.5 -3.5l3.5 3.5l-3.5 3.5zM327.3 390.8l3.5 -3.5l3.5 3.5l-3.5 3.5zM330.3 397.1l3.5 -3.5l3.5 3.5l-3.5 3.5zM333.3 400.4l3.5 -3.5l3.5 3.5l-3.5 3.5zM336.4 403.3l3.5 -3.5l3.5 3.5l-3.5 3.5zM339.4 392.4l3.5 -3.5l3.5 3.5l-3.5 3.5zM342.4 394.8l3.5 -3.5l3.5 3.5l-3.5 3.5zM345.4 405.5l3.5 -3.5l3.5 3.5l-3.5 3.5zM282.6 348.0l3.5 -3.5l3.5 3.5l-3.5 3.5zM312.3 403.1l3.5 -3.5l3.5 3.5l-3.5 3.5zM275.9 401.0l3.5 -3.5l3.5 3.5l-3.5 3.5zM279.2 398.8l3.5 -3.5l3.5 3.5l-3.5 3.5zM266.9 405.7l3.5 -3.5l3.5 3.5l-3.5 3.5zM272.9 412.1l3.5 -3.5l3.5 3.5l-3.5 3.5zM260.9 421.7l3.5 -3.5l3.5 3.5l-3.5 3.5zM263.5 421.7l3.5 -3.5l3.5 3.5l-3.5 3.5zM269.9 429.5l3.5 -3.5l3.5 3.5l-3.5 3.5zM399.8 408.5l3.5 -3.5l3.5 3.5l-3.5 3.5zM402.8 393.5l3.5 -3.5l3.5 3.5l-3.5 3.5zM405.8 383.0l3.5 -3.5l3.5 3.5l-3.5 3.5zM408.8 373.5l3.5 -3.5l3.5 3.5l-3.5 3.5zM411.9 371.2l3.5 -3.5l3.5 3.5l-3.5 3.5zM414.9 371.2l3.5 -3.5l3.5 3.5l-3.5 3.5zM417.9 373.2l3.5 -3.5l3.5 3.5l-3.5 3.5zM420.9 375.8l3.5 -3.5l3.5 3.5l-3.5 3.5zM423.9 372.3l3.5 -3.5l3.5 3.5l-3.5 3.5zM427.0 370.9l3.5 -3.5l3.5 3.5l-3.5 3.5zM430.0 373.2l3.5 -3.5l3.5 3.5l-3.5 3.5zM433.0 378.9l3.5 -3.5l3.5 3.5l-3.5 3.5zM436.0 385.0l3.5 -3.5l3.5 3.5l-3.5 3.5zM439.0 385.8l3.5 -3.5l3.5 3.5l-3.5 3.5zM442.1 387.8l3.5 -3.5l3.5 3.5l-3.5 3.5zM445.1 388.9l3.5 -3.5l3.5 3.5l-3.5 3.5zM448.1 389.7l3.5 -3.5l3.5 3.5l-3.5 3.5zM451.1 389.2l3.5 -3.5l3.5 3.5l-3.5 3.5zM454.1 389.7l3.5 -3.5l3.5 3.5l-3.5 3.5zM457.2 393.5l3.5 -3.5l3.5 3.5l-3.5 3.5zM460.2 398.5l3.5 -3.5l3.5 3.5l-3.5 3.5zM463.2 408.9l3.5 -3.5l3.5 3.5l-3.5 3.5zM466.2 412.0l3.5 -3.5l3.5 3.5l-3.5 3.5zM469.2 412.5l3.5 -3.5l3.5 3.5l-3.5 3.5zM472.3 415.9l3.5 -3.5l3.5 3.5l-3.5 3.5zM475.3 416.6l3.5 -3.5l3.5 3.5l-3.5 3.5zM478.3 407.8l3.5 -3.5l3.5 3.5l-3.5 3.5zM481.3 407.5l3.5 -3.5l3.5 3.5l-3.5 3.5zM484.3 408.2l3.5 -3.5l3.5 3.5l-3.5 3.5zM487.4 411.5l3.5 -3.5l3.5 3.5l-3.5 3.5zM490.4 416.0l3.5 -3.5l3.5 3.5l-3.5 3.5zM493.4 408.2l3.5 -3.5l3.5 3.5l-3.5 3.5zM496.4 412.3l3.5 -3.5l3.5 3.5l-3.5 3.5zM499.4 403.7l3.5 -3.5l3.5 3.5l-3.5 3.5zM502.5 403.3l3.5 -3.5l3.5 3.5l-3.5 3.5zM505.5 399.5l3.5 -3.5l3.5 3.5l-3.5 3.5zM508.5 396.5l3.5 -3.5l3.5 3.5l-3.5 3.5zM511.5 398.8l3.5 -3.5l3.5 3.5l-3.5 3.5zM514.5 399.5l3.5 -3.5l3.5 3.5l-3.5 3.5zM517.6 400.0l3.5 -3.5l3.5 3.5l-3.5 3.5zM520.6 400.3l3.5 -3.5l3.5 3.5l-3.5 3.5zM523.6 399.5l3.5 -3.5l3.5 3.5l-3.5 3.5zM526.6 405.5l3.5 -3.5l3.5 3.5l-3.5 3.5zM529.6 412.0l3.5 -3.5l3.5 3.5l-3.5 3.5zM532.7 416.0l3.5 -3.5l3.5 3.5l-3.5 3.5zM535.7 412.0l3.5 -3.5l3.5 3.5l-3.5 3.5zM538.7 406.0l3.5 -3.5l3.5 3.5l-3.5 3.5zM541.7 412.3l3.5 -3.5l3.5 3.5l-3.5 3.5zM544.7 416.2l3.5 -3.5l3.5 3.5l-3.5 3.5zM547.8 416.4l3.5 -3.5l3.5 3.5l-3.5 3.5zM550.8 429.3l3.5 -3.5l3.5 3.5l-3.5 3.5zM553.8 416.2l3.5 -3.5l3.5 3.5l-3.5 3.5zM556.8 408.0l3.5 -3.5l3.5 3.5l-3.5 3.5zM559.8 408.0l3.5 -3.5l3.5 3.5l-3.5 3.5zM562.9 412.3l3.5 -3.5l3.5 3.5l-3.5 3.5zM565.9 421.7l3.5 -3.5l3.5 3.5l-3.5 3.5z" stroke-width="1.1"/>
</g>
</g>
<text x="58.1" y="21.8" text-anchor="end" font-size="13.5" letter-spacing="0.85">400</text>
<text x="58.1" y="53.4" text-anchor="end" font-size="13.5" letter-spacing="0.85">200</text>
<text x="58.1" y="85.0" text-anchor="end" font-size="13.5" letter-spacing="0.85">0</text>
<text x="58.1" y="116.6" text-anchor="end" font-size="13.5" letter-spacing="0.85">−200</text>
<text x="58.1" y="148.2" text-anchor="end" font-size="13.5" letter-spacing="0.85">−400</text>
<text x="58.1" y="167.6" text-anchor="end" font-size="13.5" letter-spacing="0.85">1200</text>
<text x="58.1" y="190.3" text-anchor="end" font-size="13.5" letter-spacing="0.85">1000</text>
<text x="58.1" y="216.6" text-anchor="end" font-size="13.5" letter-spacing="0.85">800</text>
<text x="58.1" y="242.9" text-anchor="end" font-size="13.5" letter-spacing="0.85">600</text>
<text x="58.1" y="269.2" text-anchor="end" font-size="13.5" letter-spacing="0.85">400</text>
<text x="58.1" y="295.6" text-anchor="end" font-size="13.5" letter-spacing="0.85">200</text>
<text x="58.1" y="316.1" text-anchor="end" font-size="13.5" letter-spacing="0.85">0</text>
<text x="57.6" y="325.6" text-anchor="end" font-size="13.5" textLength="35.4" lengthAdjust="spacingAndGlyphs">1.000</text>
<text x="57.6" y="366.4" text-anchor="end" font-size="13.5" textLength="37.0" lengthAdjust="spacingAndGlyphs">0.100</text>
<text x="57.6" y="410.3" text-anchor="end" font-size="13.5" textLength="37.0" lengthAdjust="spacingAndGlyphs">0.010</text>
<text x="56.0" y="447.8" text-anchor="end" font-size="13.5" textLength="35.6" lengthAdjust="spacingAndGlyphs">0.001</text>
<text x="62.8" y="467.3" text-anchor="middle" font-size="13.5" letter-spacing="0.85">−4</text>
<text x="181.9" y="467.3" text-anchor="middle" font-size="13.5" letter-spacing="0.85">−2</text>
<text x="301.0" y="467.3" text-anchor="middle" font-size="13.5" letter-spacing="0.85">0</text>
<text x="420.1" y="467.3" text-anchor="middle" font-size="13.5" letter-spacing="0.85">2</text>
<text x="539.2" y="467.3" text-anchor="middle" font-size="13.5" letter-spacing="0.85">4</text>
<text x="219.06" y="483.8" font-size="13.5" textLength="15.73" lengthAdjust="spacingAndGlyphs">SE</text>
<text x="275.46" y="483.8" font-size="13.5" textLength="37.24" lengthAdjust="spacingAndGlyphs">Offset</text>
<text x="320.66" y="483.8" font-size="13.5" textLength="60.75" lengthAdjust="spacingAndGlyphs">(arcsecs)</text>
<text x="422.16" y="483.8" font-size="13.5" textLength="18.50" lengthAdjust="spacingAndGlyphs">NW</text>
<text transform="translate(11.1,130.72) rotate(-90)" font-size="13.5" textLength="47.71" lengthAdjust="spacingAndGlyphs">Velocity</text>
<text transform="translate(11.15,75.34) rotate(-90)" font-size="13.5" textLength="46.26" lengthAdjust="spacingAndGlyphs">(km/s)</text>
<text transform="translate(13.4,282.18) rotate(-90)" font-size="13.5" textLength="35.47" lengthAdjust="spacingAndGlyphs">FWHM</text>
<text transform="translate(13.4,239.12) rotate(-90)" font-size="13.5" textLength="46.41" lengthAdjust="spacingAndGlyphs">(km/s)</text>
<text transform="translate(9.1,395.24) rotate(-90)" font-size="13.5" textLength="24.71" lengthAdjust="spacingAndGlyphs">Flux</text>
</svg>
</body></html>
